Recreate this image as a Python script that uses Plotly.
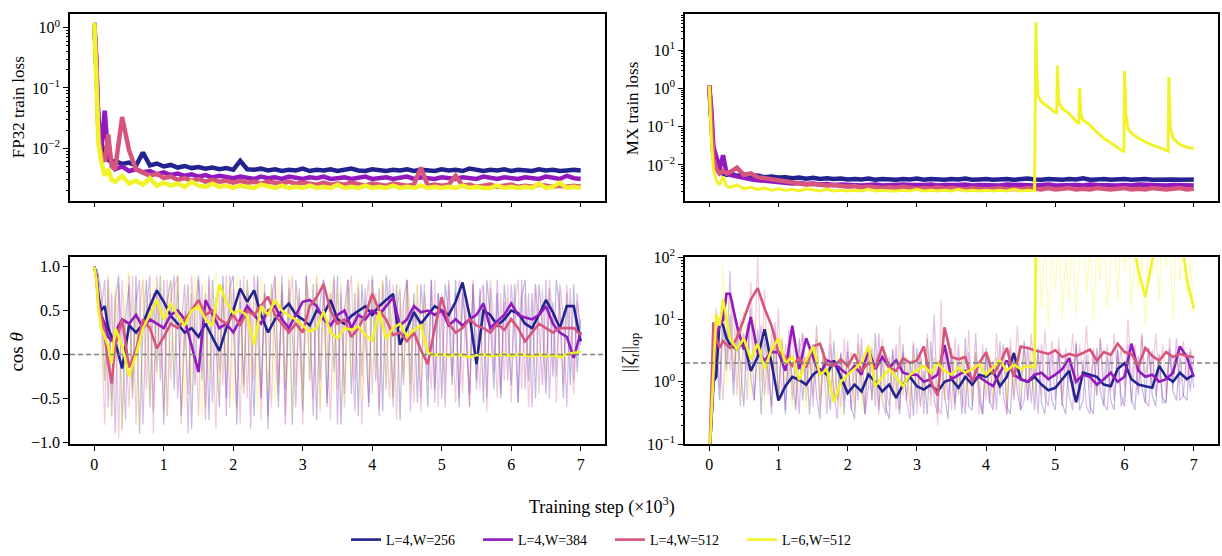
import plotly.graph_objects as go

FONT = "Liberation Serif"

# ---------------- data ----------------
LABELS = ["L=4,W=256", "L=4,W=384", "L=4,W=512", "L=6,W=512"]
COLORS = ["#23238f", "#9119be", "#d7557d", "#f2f22a"]

X_TICKS = [0, 1, 2, 3, 4, 5, 6, 7]

# shared step grid (x10^3)
STEPS = [0, 0.03, 0.06, 0.1, 0.15, 0.2, 0.25,
         0.3, 0.4, 0.5, 0.6, 0.7, 0.8, 0.9, 1.0,
         1.1, 1.2, 1.3, 1.4, 1.5, 1.6, 1.7, 1.8, 1.9, 2.0,
         2.1, 2.2, 2.3, 2.4, 2.5, 2.6, 2.7, 2.8, 2.9, 3.0,
         3.1, 3.2, 3.3, 3.4, 3.5, 3.6, 3.7, 3.8, 3.9, 4.0,
         4.1, 4.2, 4.3, 4.4, 4.5, 4.6, 4.7, 4.8, 4.9, 5.0,
         5.1, 5.2, 5.3, 5.4, 5.5, 5.6, 5.7, 5.8, 5.9, 6.0,
         6.1, 6.2, 6.3, 6.4, 6.5, 6.6, 6.7, 6.8, 6.9, 7.0]

# raw (unsmoothed) step grid
RAW_STEPS = [round(0.05 * i, 2) for i in range(141)]

# ---- FP32 train loss ----
FP32_256 = [1.2, 0.15, 0.03, 0.012, 0.008, 0.0065, 0.0058,
            0.0062, 0.0055, 0.0058, 0.0052, 0.0085, 0.0052, 0.0056, 0.0050,
            0.0053, 0.0048, 0.0051, 0.0047, 0.0049, 0.0046, 0.0048, 0.0045, 0.0047, 0.0044,
            0.0062, 0.0045, 0.0044, 0.0046, 0.0043, 0.0045, 0.0042, 0.0044, 0.0043, 0.0046,
            0.0042, 0.0044, 0.0043, 0.0045, 0.0042, 0.0044, 0.0046, 0.0043, 0.0042, 0.0045,
            0.0043, 0.0042, 0.0044, 0.0043, 0.0045, 0.0042, 0.0044, 0.0043, 0.0042, 0.0045,
            0.0043, 0.0044, 0.0042, 0.0046, 0.0043, 0.0042, 0.0044, 0.0043, 0.0045, 0.0042,
            0.0044, 0.0043, 0.0042, 0.0045, 0.0043, 0.0044, 0.0042, 0.0043, 0.0044, 0.0043]
FP32_384 = [1.2, 0.25, 0.02, 0.01, 0.042, 0.007, 0.006,
            0.0045, 0.0050, 0.0042, 0.0045, 0.0040, 0.0042, 0.0037, 0.0040,
            0.0036, 0.0038, 0.0035, 0.0037, 0.0034, 0.0036, 0.0033, 0.0035, 0.0034, 0.0032,
            0.0034, 0.0033, 0.0031, 0.0034, 0.0032, 0.0033, 0.0031, 0.0034, 0.0032, 0.0031,
            0.0033, 0.0032, 0.0034, 0.0031, 0.0032, 0.0033, 0.0031, 0.0032, 0.0034, 0.0031,
            0.0032, 0.0033, 0.0031, 0.0032, 0.0034, 0.0031, 0.0033, 0.0032, 0.0031, 0.0033,
            0.0032, 0.0031, 0.0033, 0.0032, 0.0031, 0.0034, 0.0032, 0.0031, 0.0033, 0.0032,
            0.0031, 0.0033, 0.0032, 0.0031, 0.0034, 0.0032, 0.0031, 0.0035, 0.0032, 0.0031]
FP32_512 = [1.2, 0.3, 0.015, 0.008, 0.006, 0.017, 0.005,
            0.0045, 0.033, 0.0092, 0.0045, 0.0040, 0.0035, 0.0038, 0.0032,
            0.0034, 0.0030, 0.0032, 0.0029, 0.0031, 0.0028, 0.0030, 0.0028, 0.0029, 0.0027,
            0.0029, 0.0027, 0.0028, 0.0026, 0.0028, 0.0027, 0.0026, 0.0028, 0.0026, 0.0027,
            0.0026, 0.0025, 0.0027, 0.0025, 0.0026, 0.0025, 0.0027, 0.0025, 0.0024, 0.0026,
            0.0025, 0.0024, 0.0026, 0.0025, 0.0024, 0.0025, 0.0048, 0.0024, 0.0025, 0.0024,
            0.0025, 0.0035, 0.0024, 0.0025, 0.0023, 0.0024, 0.0025, 0.0023, 0.0024, 0.0025,
            0.0023, 0.0024, 0.0023, 0.0025, 0.0024, 0.0023, 0.0024, 0.0023, 0.0024, 0.0023]
FP32_L6 = [1.2, 0.1, 0.012, 0.006, 0.0035, 0.0045, 0.003,
           0.0028, 0.0035, 0.0026, 0.0029, 0.0025, 0.0032, 0.0024, 0.0027,
           0.0024, 0.0026, 0.0023, 0.0028, 0.0024, 0.0023, 0.0026, 0.0023, 0.0024, 0.0022,
           0.0024, 0.0023, 0.0022, 0.0025, 0.0023, 0.0022, 0.0024, 0.0022, 0.0023, 0.0022,
           0.0024, 0.0022, 0.0023, 0.0022, 0.0025, 0.0022, 0.0023, 0.0022, 0.0024, 0.0022,
           0.0023, 0.0022, 0.0024, 0.0022, 0.0023, 0.0022, 0.0024, 0.0022, 0.0023, 0.0022,
           0.0023, 0.0022, 0.0024, 0.0022, 0.0023, 0.0022, 0.0022, 0.0024, 0.0022, 0.0023,
           0.0022, 0.0023, 0.0022, 0.0026, 0.0022, 0.0023, 0.0027, 0.0022, 0.0023, 0.0022]

# ---- MX train loss ----
MX_256 = [1.2, 0.2, 0.02, 0.01, 0.007, 0.006, 0.0055,
          0.006, 0.0052, 0.0056, 0.0050, 0.0053, 0.0048, 0.0050, 0.0047,
          0.0048, 0.0045, 0.0047, 0.0044, 0.0046, 0.0043, 0.0045, 0.0043, 0.0044, 0.0042,
          0.0043, 0.0042, 0.0044, 0.0041, 0.0043, 0.0042, 0.0041, 0.0043, 0.0042, 0.0044,
          0.0041, 0.0043, 0.0042, 0.0041, 0.0043, 0.0042, 0.0044, 0.0041, 0.0042, 0.0043,
          0.0041, 0.0042, 0.0043, 0.0041, 0.0042, 0.0044, 0.0042, 0.0041, 0.0043, 0.0042,
          0.0041, 0.0043, 0.0042, 0.0045, 0.0041, 0.0042, 0.0043, 0.0041, 0.0042, 0.0043,
          0.0041, 0.0042, 0.0043, 0.0041, 0.0042, 0.0043, 0.0042, 0.0041, 0.0042, 0.0042]
MX_384 = [1.2, 0.3, 0.03, 0.018, 0.008, 0.018, 0.006,
          0.0055, 0.005, 0.0045, 0.0042, 0.0040, 0.0038, 0.0037, 0.0035,
          0.0034, 0.0033, 0.0034, 0.0032, 0.0033, 0.0031, 0.0032, 0.0030, 0.0031, 0.0030,
          0.0031, 0.0029, 0.0030, 0.0031, 0.0029, 0.0030, 0.0029, 0.0031, 0.0030, 0.0029,
          0.0030, 0.0031, 0.0029, 0.0030, 0.0029, 0.0030, 0.0031, 0.0029, 0.0030, 0.0029,
          0.0030, 0.0029, 0.0031, 0.0030, 0.0029, 0.0030, 0.0029, 0.0030, 0.0031, 0.0029,
          0.0030, 0.0029, 0.0030, 0.0029, 0.0031, 0.0030, 0.0029, 0.0030, 0.0029, 0.0030,
          0.0029, 0.0031, 0.0030, 0.0029, 0.0030, 0.0029, 0.0030, 0.0029, 0.0030, 0.0029]
MX_512 = [1.2, 0.1, 0.015, 0.008, 0.006, 0.007, 0.006,
          0.0065, 0.0085, 0.0055, 0.006, 0.0048, 0.0045, 0.0040, 0.0038,
          0.0036, 0.0034, 0.0033, 0.0031, 0.0032, 0.0030, 0.0029, 0.0030, 0.0028, 0.0027,
          0.0028, 0.0026, 0.0027, 0.0026, 0.0025, 0.0026, 0.0025, 0.0027, 0.0025, 0.0024,
          0.0025, 0.0024, 0.0026, 0.0024, 0.0025, 0.0024, 0.0023, 0.0025, 0.0024, 0.0023,
          0.0024, 0.0025, 0.0023, 0.0024, 0.0023, 0.0025, 0.0024, 0.0023, 0.0025, 0.0023,
          0.0024, 0.0025, 0.0023, 0.0024, 0.0023, 0.0025, 0.0024, 0.0023, 0.0024, 0.0025,
          0.0023, 0.0024, 0.0023, 0.0025, 0.0024, 0.0023, 0.0024, 0.0025, 0.0023, 0.0024]
MX_L6_STEPS = [0, 0.03, 0.06, 0.1, 0.15, 0.2, 0.25,
               0.3, 0.4, 0.5, 0.6, 0.7, 0.8, 0.9, 1.0,
               1.1, 1.2, 1.3, 1.4, 1.5, 1.6, 1.7, 1.8, 1.9, 2.0,
               2.1, 2.2, 2.3, 2.4, 2.5, 2.6, 2.7, 2.8, 2.9, 3.0,
               3.1, 3.2, 3.3, 3.4, 3.5, 3.6, 3.7, 3.8, 3.9, 4.0,
               4.1, 4.2, 4.3, 4.4, 4.5, 4.6, 4.7,
               4.72, 4.73, 4.75, 4.8, 4.9, 5.0, 5.02, 5.03, 5.05, 5.1,
               5.2, 5.3, 5.34, 5.35, 5.37, 5.4, 5.5, 5.6, 5.7, 5.8,
               5.9, 5.99, 6.0, 6.02, 6.05, 6.1, 6.2, 6.3, 6.4, 6.5,
               6.6, 6.63, 6.64, 6.66, 6.7, 6.8, 6.9, 7.0]
MX_L6 = [1.2, 0.05, 0.008, 0.004, 0.003, 0.005, 0.0028,
         0.0026, 0.003, 0.0024, 0.0026, 0.0023, 0.0025, 0.0022, 0.0024,
         0.0022, 0.0023, 0.0021, 0.0024, 0.0022, 0.0021, 0.0023, 0.0021, 0.0022, 0.0021,
         0.0022, 0.0021, 0.0023, 0.0021, 0.0022, 0.0021, 0.0021, 0.0022, 0.0021, 0.0023,
         0.0021, 0.0022, 0.0021, 0.0022, 0.0021, 0.0023, 0.0021, 0.0022, 0.0021, 0.0022,
         0.0021, 0.0022, 0.0021, 0.0023, 0.0021, 0.0022, 0.0021,
         54, 3.0, 0.65, 0.45, 0.33, 0.24, 0.22, 4.0, 0.45, 0.3,
         0.22, 0.14, 0.12, 1.03, 0.2, 0.15, 0.11, 0.072, 0.05, 0.038,
         0.028, 0.022, 2.9, 0.2, 0.09, 0.068, 0.05, 0.04, 0.033, 0.029,
         0.025, 0.023, 2.0, 0.1, 0.05, 0.034, 0.029, 0.027]

# ---- cos theta (smoothed) ----
COS_256 = [1.0, 0.9, 0.65, 0.5, 0.55, 0.3, 0.2,
           0.15, -0.16, 0.33, 0.25, 0.35, 0.55, 0.73, 0.6,
           0.44, 0.35, 0.25, 0.3, 0.2, 0.35, 0.2, 0.04, 0.3, 0.5,
           0.75, 0.6, 0.73, 0.45, 0.25, 0.4, 0.5, 0.58, 0.45, 0.4,
           0.33, 0.5, 0.45, 0.62, 0.4, 0.35, 0.44, 0.5, 0.55, 0.45,
           0.55, 0.62, 0.69, 0.11, 0.3, 0.48, 0.35, 0.45, 0.55, 0.5,
           0.45, 0.6, 0.82, 0.45, -0.11, 0.5, 0.45, 0.33, 0.4, 0.5,
           0.47, 0.35, 0.3, 0.45, 0.62, 0.48, 0.3, 0.55, 0.55, 0.15]
COS_384 = [1.0, 0.9, 0.6, 0.45, 0.35, 0.2, 0.15,
           0.25, 0.4, 0.35, 0.45, 0.3, 0.4, 0.35, 0.3,
           0.45, 0.5, 0.4, 0.1, -0.2, 0.62, 0.45, 0.3, 0.35, 0.25,
           0.4, 0.55, 0.45, 0.35, 0.5, 0.55, 0.4, 0.3, 0.45, 0.6,
           0.62, 0.55, 0.4, 0.33, 0.45, 0.5, 0.3, 0.45, 0.4, 0.5,
           0.45, 0.55, 0.65, 0.33, 0.4, 0.55, 0.48, 0.5, 0.45, 0.5,
           0.33, 0.4, 0.33, 0.4, 0.45, 0.58, 0.3, 0.38, 0.45, 0.58,
           0.45, 0.42, 0.4, 0.45, 0.55, 0.35, 0.25, 0.2, -0.04, 0.25]
COS_512 = [1.0, 0.85, 0.55, 0.45, 0.2, -0.1, -0.33,
           0.1, 0.4, -0.15, 0.05, 0.4, 0.3, 0.07, 0.2,
           0.35, 0.3, 0.4, 0.5, 0.62, 0.45, 0.5, 0.4, 0.35, 0.45,
           0.33, 0.5, 0.45, 0.55, 0.66, 0.45, 0.35, 0.25, 0.35, 0.25,
           0.55, 0.65, 0.8, 0.5, 0.35, 0.4, 0.2, 0.3, 0.45, 0.69,
           0.5, 0.4, 0.22, 0.25, 0.15, 0.25, 0.05, -0.11, 0.3, 0.65,
           0.35, 0.25, 0.3, 0.4, 0.33, 0.3, 0.25, 0.35, 0.28, 0.4,
           0.3, 0.15, 0.25, 0.35, 0.3, 0.25, 0.3, 0.3, 0.3, 0.22]
COS_L6 = [1.0, 0.85, 0.5, 0.3, 0.2, 0.1, -0.1,
          0.3, 0.1, -0.25, 0.0, 0.3, 0.45, 0.62, 0.4,
          0.58, 0.45, 0.33, 0.5, 0.55, 0.4, 0.33, 0.8, 0.6, 0.47,
          0.5, 0.44, 0.11, 0.55, 0.45, 0.62, 0.5, 0.44, 0.4, 0.33,
          0.26, 0.3, 0.49, 0.25, 0.18, 0.3, 0.28, 0.32, 0.22, 0.16,
          0.49, 0.18, 0.3, 0.35, 0.2, 0.28, 0.33, 0.02, -0.01, 0.0,
          -0.02, 0.0, -0.01, -0.03, -0.01, 0.0, -0.02, -0.01, 0.0, -0.02,
          0.0, -0.01, -0.02, 0.0, -0.02, -0.01, -0.03, 0.0, 0.02, 0.03]

# ---- cos theta (raw) ----
COS_RAW_256 = [1.0, 0.95, 0.7, -0.3, 0.85, -0.7, 0.6, 0.9, -0.85, 0.4, 0.8, -0.5, 0.9, -0.9, 0.3, 0.85, -0.6, 0.7, -0.2, 0.9,
               -0.8, 0.6, 0.85, -0.4, 0.9, -0.7, 0.2, 0.8, -0.85, 0.5, 0.9, -0.3, 0.7, -0.75, 0.85, 0.1, -0.6, 0.9, -0.5, 0.75,
               0.9, -0.8, 0.6, -0.35, 0.85, 0.3, -0.7, 0.9, -0.5, 0.7, -0.85, 0.8, 0.2, -0.6, 0.9, -0.4, 0.75, -0.8, 0.85, 0.35,
               -0.65, 0.9, -0.3, 0.8, -0.75, 0.6, 0.85, -0.55, 0.7, -0.2, 0.9, -0.8, 0.5, 0.85, -0.45, 0.7, -0.7, 0.8, 0.25, -0.6,
               0.85, -0.3, 0.75, -0.65, 0.9, 0.4, -0.5, 0.8, -0.75, 0.6, 0.85, -0.35, 0.7, -0.55, 0.8, 0.3, -0.6, 0.85, -0.4, 0.7,
               -0.5, 0.8, 0.45, -0.35, 0.85, -0.6, 0.7, 0.2, -0.45, 0.8, -0.3, 0.75, -0.55, 0.85, 0.4, -0.4, 0.7, -0.5, 0.8, 0.3,
               -0.35, 0.8, -0.55, 0.65, 0.85, -0.3, 0.7, -0.5, 0.8, 0.35, -0.45, 0.75, -0.25, 0.85, 0.5, -0.5, 0.7, -0.35, 0.8, -0.2,
               0.4]
COS_RAW_384 = [1.0, 0.9, 0.5, 0.85, -0.6, 0.7, -0.9, 0.8, 0.2, -0.75, 0.9, -0.4, 0.6, 0.85, -0.8, 0.5, 0.9, -0.65, 0.75, -0.3,
               0.85, -0.7, 0.6, 0.9, -0.5, 0.3, 0.8, -0.9, 0.7, -0.35, 0.85, 0.4, -0.75, 0.9, -0.55, 0.65, -0.2, 0.8, -0.7, 0.9,
               0.3, -0.6, 0.85, -0.45, 0.7, -0.85, 0.9, 0.25, -0.5, 0.8, -0.7, 0.6, 0.9, -0.35, 0.7, -0.8, 0.85, 0.2, -0.6, 0.75,
               -0.4, 0.9, 0.5, -0.7, 0.8, -0.3, 0.85, -0.6, 0.4, 0.9, -0.8, 0.7, -0.45, 0.85, 0.3, -0.65, 0.8, -0.25, 0.75, -0.55,
               0.9, 0.35, -0.7, 0.8, -0.4, 0.85, -0.6, 0.5, 0.75, -0.35, 0.85, -0.65, 0.6, 0.2, -0.5, 0.8, -0.3, 0.85, -0.55, 0.7,
               0.4, -0.6, 0.85, -0.25, 0.7, -0.5, 0.8, 0.3, -0.6, 0.85, -0.4, 0.65, 0.8, -0.5, 0.75, -0.2, 0.85, -0.45, 0.6, -0.3,
               0.8, 0.25, -0.55, 0.85, -0.4, 0.7, -0.6, 0.8, 0.3, -0.35, 0.85, -0.5, 0.6, -0.25, 0.8, 0.45, -0.6, 0.75, -0.3, 0.7,
               0.1]
COS_RAW_512 = [1.0, 0.8, 0.3, -0.8, 0.9, -0.5, 0.7, -0.95, 0.85, 0.1, -0.6, 0.9, -0.8, 0.5, 0.85, -0.4, 0.7, -0.9, 0.9, 0.2,
               -0.65, 0.85, -0.3, 0.75, 0.9, -0.8, 0.5, -0.45, 0.9, 0.3, -0.7, 0.8, -0.6, 0.85, 0.2, -0.85, 0.7, -0.35, 0.9, -0.6,
               0.75, 0.4, -0.8, 0.9, -0.5, 0.6, -0.3, 0.85, -0.75, 0.7, 0.25, -0.6, 0.9, -0.45, 0.8, -0.7, 0.5, 0.9, -0.35, 0.65,
               -0.8, 0.85, 0.3, -0.5, 0.9, -0.65, 0.7, 0.2, -0.75, 0.85, -0.4, 0.8, -0.6, 0.6, 0.9, -0.3, 0.75, -0.8, 0.5, 0.85,
               -0.45, 0.7, -0.6, 0.85, 0.3, -0.5, 0.8, -0.75, 0.65, -0.3, 0.85, 0.4, -0.55, 0.8, -0.65, 0.7, 0.25, -0.4, 0.85, -0.6,
               0.7, -0.35, 0.8, 0.3, -0.55, 0.85, -0.45, 0.65, -0.6, 0.8, 0.2, -0.4, 0.75, -0.65, 0.85, 0.35, -0.5, 0.7, -0.3, 0.8,
               -0.55, 0.6, 0.85, -0.4, 0.7, -0.6, 0.3, 0.8, -0.45, 0.75, -0.3, 0.85, 0.4, -0.55, 0.7, -0.35, 0.8, 0.2, -0.45, 0.6,
               0.3]
COS_RAW_L6 = [1.0, 0.85, 0.6, -0.4, 0.9, -0.75, 0.8, 0.2, -0.9, 0.7, 0.95, -0.5, 0.6, -0.85, 0.9, 0.3, -0.6, 0.85, -0.3, 0.9,
              0.4, -0.7, 0.85, -0.2, 0.9, 0.5, -0.6, 0.8, -0.4, 0.9, 0.2, -0.75, 0.85, -0.3, 0.7, 0.95, -0.5, 0.8, -0.2, 0.85,
              -0.6, 0.9, 0.35, -0.45, 0.85, -0.25, 0.7, -0.65, 0.9, 0.3, -0.4, 0.8, -0.55, 0.85, 0.4, -0.3, 0.9, -0.7, 0.75, 0.2,
              -0.5, 0.85, -0.3, 0.7, 0.9, -0.6, 0.5, -0.2, 0.85, -0.45, 0.75, 0.3, -0.55, 0.8, -0.25, 0.7, 0.85, -0.5, 0.6, -0.35,
              0.8, -0.2, 0.65, 0.85, -0.4, 0.7, -0.55, 0.6, 0.8, -0.3, 0.75, -0.45, 0.5, 0.8, -0.25, 0.6, 0.04, -0.03, 0.02, -0.04,
              0.03, -0.02, 0.05, -0.04, 0.01, -0.05, 0.03, -0.02, 0.04, -0.03, 0.02, -0.05, 0.03, -0.01, 0.04, -0.04, 0.02, -0.03, 0.05, -0.02,
              0.02, -0.04, 0.03, -0.02, 0.05, -0.03, 0.01, -0.05, 0.04, -0.02, 0.03, -0.04, 0.02, -0.01, 0.05, -0.03, 0.04, -0.02, 0.06, 0.01,
              0.04]

# ---- ||zeta_t||_op (smoothed) ----
ZETA_256 = [0.05, 0.3, 1.0, 1.2, 10, 8, 5,
            4, 3.3, 4.5, 1.5, 2.5, 7, 2, 0.5,
            0.85, 1.2, 1.07, 0.9, 1.3, 1.6, 1.3, 2.2, 1.2, 0.66,
            0.9, 0.7, 1.3, 1.0, 0.7, 0.9, 0.55, 0.9, 1.2, 0.85,
            0.75, 0.9, 0.7, 1.0, 1.1, 0.8, 1.2, 0.9, 1.3, 1.2,
            1.5, 0.85, 1.2, 2.9, 1.1, 1.0, 1.2, 0.9, 0.73, 0.8,
            1.1, 1.5, 0.47, 1.4, 1.3, 1.2, 0.9, 0.85, 1.6, 2.0,
            1.1, 0.9, 0.85, 0.8, 1.8, 1.2, 1.0, 1.4, 1.1, 1.3]
ZETA_384 = [0.05, 0.3, 1.0, 5, 8, 10, 26,
            26, 8, 3.3, 11, 3, 2.2, 3, 3,
            1.5, 8, 1.6, 5, 2.5, 1.3, 2.2, 2.0, 1.6, 1.3,
            1.8, 1.3, 3.3, 1.6, 2.5, 1.7, 2.2, 1.4, 1.3, 1.3,
            1.0, 1.1, 1.3, 3.9, 1.1, 1.3, 1.5, 1.1, 1.2, 1.0,
            0.85, 1.4, 2.2, 1.3, 1.1, 1.0, 1.3, 1.4, 1.1, 1.3,
            1.6, 2.4, 1.0, 1.3, 1.2, 0.9, 1.1, 1.4, 1.0, 1.2,
            4.1, 1.5, 1.2, 1.3, 1.0, 1.1, 1.4, 3.7, 2.5, 1.2]
ZETA_512 = [0.05, 0.5, 9, 5, 3.5, 4.5, 4,
            3.5, 5, 10, 21, 32, 15, 8, 3,
            2.5, 1.8, 2.4, 1.7, 3.7, 4.1, 1.9, 1.8, 2.3, 1.8,
            2.8, 1.5, 2.0, 1.7, 3.7, 1.7, 1.5, 2.4, 2.0, 2.2,
            3.7, 1.0, 0.6, 7.5, 2.5, 2.3, 2.5, 1.0, 2.0, 3.0,
            1.3, 2.0, 3.5, 1.2, 3.7, 3.5, 3.2, 3.0, 2.8, 3.2,
            2.5, 2.8, 2.6, 2.9, 3.3, 2.2, 3.0, 2.7, 4.1, 3.0,
            2.8, 1.8, 3.5, 2.6, 2.2, 3.0, 2.5, 2.8, 2.6, 2.5]
# L=6 run has its own grid: it blows up abruptly at step 4.72k
ZETA_L6_STEPS = [0, 0.03, 0.06, 0.1, 0.15, 0.2, 0.25,
                 0.3, 0.4, 0.5, 0.6, 0.7, 0.8, 0.9, 1.0,
                 1.1, 1.2, 1.3, 1.4, 1.5, 1.6, 1.7, 1.8, 1.9, 2.0,
                 2.1, 2.2, 2.3, 2.4, 2.5, 2.6, 2.7, 2.8, 2.9, 3.0,
                 3.1, 3.2, 3.3, 3.4, 3.5, 3.6, 3.7, 3.8, 3.9, 4.0,
                 4.1, 4.2, 4.3, 4.4, 4.5, 4.6, 4.7, 4.72, 4.8, 4.9, 5.0,
                 5.1, 5.2, 5.3, 5.4, 5.5, 5.6, 5.7, 5.8, 5.9, 6.0,
                 6.1, 6.2, 6.3, 6.4, 6.5, 6.6, 6.7, 6.8, 6.9, 7.0]
ZETA_L6 = [0.05, 0.3, 1.2, 12, 8, 21, 10,
           5, 3.3, 5, 2.3, 4.1, 1.6, 3.3, 5,
           2.0, 2.5, 1.07, 2.2, 3.7, 1.3, 1.6, 0.47, 1.0, 1.3,
           1.6, 2.0, 3.7, 0.85, 1.2, 1.6, 1.2, 0.85, 1.3, 1.55,
           1.8, 1.4, 2.0, 1.5, 1.3, 1.7, 1.4, 1.6, 1.9, 1.3,
           1.7, 2.2, 1.5, 1.9, 1.6, 1.8, 1.7, 300, 300, 300, 300,
           300, 300, 300, 300, 300, 300, 300, 300, 300, 300,
           300, 60, 23, 90, 300, 300, 300, 300, 45, 15]

# ---- ||zeta_t||_op (raw) ----
ZETA_RAW_256 = [0.05, 0.3, 3, 0.5, 8, 1.5, 12, 0.6, 6, 2, 0.4, 9, 1.2, 0.5, 7, 0.3, 5, 1.5, 0.4, 6,
                0.5, 4, 0.3, 3.5, 1.0, 0.35, 5, 0.5, 2.5, 0.3, 4, 0.6, 0.25, 3, 1.2, 0.35, 4.5, 0.5, 2.8, 0.3,
                3, 0.4, 0.25, 4, 0.8, 0.3, 3.5, 0.5, 6, 0.35, 2.5, 0.4, 0.25, 3.2, 1.0, 0.3, 4, 0.5, 2.2, 0.28,
                3.5, 0.4, 1.5, 0.3, 4.5, 0.5, 0.3, 2.8, 0.6, 0.25, 3.5, 0.45, 2.0, 0.3, 5, 0.4, 0.35, 3, 0.8, 0.3,
                3.5, 0.5, 0.35, 2.5, 0.6, 4, 0.4, 0.3, 3, 0.7, 0.35, 4.5, 0.5, 2.2, 0.35, 3.5, 0.45, 0.3, 2.8, 0.5,
                0.35, 3, 0.45, 0.3, 2.5, 0.6, 4, 0.35, 0.5, 2.8, 0.4, 0.3, 3.5, 0.7, 0.4, 2.6, 0.5, 0.35, 3.2, 0.6,
                0.4, 3, 0.55, 0.35, 2.6, 0.8, 0.45, 3.5, 0.6, 0.4, 2.8, 0.55, 0.45, 3.2, 0.7, 0.5, 2.5, 0.6, 0.5, 3,
                0.8]
ZETA_RAW_384 = [0.05, 0.4, 5, 0.8, 20, 2, 60, 1.0, 10, 0.4, 6, 1.5, 15, 0.5, 3, 8, 0.6, 4, 0.3, 9,
                0.6, 5, 0.35, 7, 0.5, 2, 0.3, 6, 0.8, 3.5, 0.4, 8, 0.5, 2.5, 0.3, 4, 0.7, 0.25, 3, 0.5,
                4.5, 0.35, 2, 0.5, 5, 0.3, 0.8, 3.5, 0.4, 6, 0.5, 0.3, 2.5, 0.6, 4, 0.35, 3, 0.5, 0.25, 4,
                0.5, 3, 0.3, 5, 0.6, 12, 0.4, 0.3, 3.5, 0.5, 2.5, 0.35, 4, 0.6, 0.3, 3, 0.4, 6, 0.5, 0.3,
                3, 0.45, 2.2, 0.35, 4.5, 0.6, 0.3, 3.5, 0.5, 2.5, 0.35, 0.5, 3.8, 0.45, 2.2, 0.3, 4, 0.6, 0.4, 3,
                0.5, 3.5, 0.4, 2.5, 0.6, 0.35, 4.5, 0.5, 2.2, 0.4, 0.3, 3.2, 0.6, 5, 0.45, 0.35, 2.8, 0.5, 3.5, 0.4,
                0.6, 4, 0.45, 2.5, 0.6, 6, 0.5, 0.4, 3.2, 0.6, 2.2, 0.45, 0.5, 3.5, 0.8, 5, 0.5, 0.6, 3, 0.7,
                2.5]
ZETA_RAW_512 = [0.05, 0.8, 15, 3, 0.5, 8, 1.5, 20, 0.6, 10, 4, 0.5, 40, 2, 100, 1.0, 30, 0.6, 6, 1.2,
                15, 0.5, 4, 1.0, 8, 0.4, 3, 6, 0.5, 2.5, 0.6, 5, 0.35, 3.5, 1.0, 7, 0.5, 2, 0.4, 5,
                0.6, 3, 0.35, 6, 1.2, 0.4, 4, 0.5, 2.5, 0.3, 5, 0.8, 0.4, 3.5, 0.35, 8, 0.6, 2.5, 0.4, 4.5,
                0.3, 3, 0.6, 6, 0.4, 2.5, 0.2, 20, 0.5, 3, 0.35, 5, 0.6, 2.5, 0.4, 7, 0.5, 3, 0.3, 4,
                0.5, 2.5, 0.4, 6, 0.8, 3.5, 0.3, 5, 0.6, 8, 1.0, 4, 0.5, 6, 1.2, 3, 0.6, 7, 1.0, 4.5,
                1.2, 5, 0.6, 3.5, 1.0, 6, 0.7, 4, 1.2, 8, 0.8, 3.5, 0.6, 5, 1.0, 4, 0.7, 6, 1.1, 3.5,
                0.8, 10, 1.0, 4, 0.7, 5.5, 1.2, 3.5, 0.8, 6, 1.0, 4, 0.6, 5, 1.2, 3, 0.9, 4.5, 1.0, 3.5,
                2.0]
ZETA_RAW_L6 = [0.05, 0.5, 10, 2, 80, 0.8, 25, 1.5, 8, 0.5, 15, 3, 0.6, 10, 1.0, 5, 0.4, 8, 1.5, 4,
               0.5, 6, 1.0, 3, 0.4, 5, 0.8, 2.5, 0.35, 4, 1.0, 6, 0.5, 3, 0.4, 2, 0.8, 3.5, 0.3, 2.5,
               0.8, 3, 0.5, 4, 0.35, 2.2, 1.0, 5, 0.6, 2.5, 0.4, 3, 0.8, 2, 0.5, 3.5, 0.6, 2.5, 0.45, 3,
               0.7, 2.8, 0.5, 3.5, 0.8, 2.5, 0.6, 3, 0.5, 4, 0.9, 2.5, 0.6, 3.2, 0.7, 2.2, 0.5, 3.5, 0.8, 2.6,
               0.7, 3, 0.6, 2.5, 0.8, 3.5, 0.5, 2.8, 0.7, 3.2, 0.6, 2.5, 0.8, 3, 0.6, 300, 15, 200, 8, 150,
               30, 300, 10, 100, 20, 250, 12, 80, 300, 25, 150, 9, 200, 40, 300, 15, 120, 300, 20, 250,
               60, 300, 14, 200, 30, 100, 8, 300, 50, 250, 20, 300, 70, 200, 10, 300, 40, 150, 25, 90,
               12]

FP32 = [FP32_256, FP32_384, FP32_512, FP32_L6]
MX = [MX_256, MX_384, MX_512]
COS = [COS_256, COS_384, COS_512, COS_L6]
COS_RAW = [COS_RAW_256, COS_RAW_384, COS_RAW_512, COS_RAW_L6]
ZETA = [ZETA_256, ZETA_384, ZETA_512]
ZETA_RAW = [ZETA_RAW_256, ZETA_RAW_384, ZETA_RAW_512, ZETA_RAW_L6]

for arr in FP32 + MX + COS + ZETA:
    assert len(arr) == len(STEPS), len(arr)
for arr in COS_RAW + ZETA_RAW:
    assert len(arr) == len(RAW_STEPS), len(arr)
assert len(MX_L6) == len(MX_L6_STEPS)
assert len(ZETA_L6) == len(ZETA_L6_STEPS)

# ---------------- figure ----------------
fig = go.Figure()


def line(x, y, color, width, xa, ya, opacity=1.0, name=None, legend=False):
    fig.add_trace(go.Scatter(
        x=x, y=y, mode="lines", name=name, showlegend=legend,
        line=dict(color=color, width=width), opacity=opacity,
        xaxis=xa, yaxis=ya, hoverinfo="skip"))


# top-left: FP32 loss
for ys, c in zip(FP32, COLORS):
    line(STEPS, ys, c, 4.5, "x", "y")
# top-right: MX loss
for ys, c in zip(MX, COLORS[:3]):
    line(STEPS, ys, c, 4.5, "x2", "y2")
line(MX_L6_STEPS, MX_L6, COLORS[3], 3, "x2", "y2")
# bottom-left: cos theta
for ys, c in zip(COS_RAW, COLORS):
    line(RAW_STEPS, ys, c, 1.2, "x3", "y3", opacity=0.3)
for ys, c, lab in zip(COS, COLORS, LABELS):
    line(STEPS, ys, c, 2.6, "x3", "y3", name=lab, legend=True)
# bottom-right: zeta
for ys, c in zip(ZETA_RAW, COLORS):
    line(RAW_STEPS, ys, c, 1.2, "x4", "y4", opacity=0.3)
for ys, c in zip(ZETA, COLORS[:3]):
    line(STEPS, ys, c, 2.6, "x4", "y4")
line(ZETA_L6_STEPS, ZETA_L6, COLORS[3], 2.6, "x4", "y4")

W, H = 1222, 556
XD_L = [70 / W, 605 / W]
XD_R = [685 / W, 1218 / W]
YD_T = [1 - 197 / H, 1 - 3 / H]
YD_B = [1 - 450 / H, 1 - 256 / H]

TICKFONT = dict(family=FONT, size=16, color="black")
base = dict(showline=True, linecolor="black", linewidth=1.6, mirror=True,
            ticks="outside", ticklen=5, tickwidth=1.3, tickcolor="black",
            showgrid=False, zeroline=False, tickfont=TICKFONT)


def minor_vals(lo, hi):
    return [m * 10 ** k for k in range(lo, hi) for m in range(2, 10)]


def decade_text(k):
    s = str(k).replace("-", "\u2212")
    return "10<sup>%s</sup>" % s


xcommon = dict(base, range=[-0.35, 7.35], tickmode="array", tickvals=X_TICKS,
               ticktext=[str(t) for t in X_TICKS])

minor_style = dict(ticks="outside", ticklen=2.5, tickwidth=0.9, tickcolor="black", tickmode="array")

fig.update_layout(
    width=W, height=H, margin=dict(l=0, r=0, t=0, b=0),
    paper_bgcolor="white", plot_bgcolor="white",
    font=dict(family=FONT, size=14, color="black"),
    xaxis=dict(xcommon, domain=XD_L, anchor="y", showticklabels=False),
    xaxis2=dict(xcommon, domain=XD_R, anchor="y2", showticklabels=False),
    xaxis3=dict(xcommon, domain=XD_L, anchor="y3"),
    xaxis4=dict(xcommon, domain=XD_R, anchor="y4"),
    yaxis=dict(base, domain=YD_T, anchor="x", type="log", range=[-2.866, 0.228],
               tickmode="array", tickvals=[1e-2, 1e-1, 1],
               ticktext=[decade_text(k) for k in (-2, -1, 0)],
               minor=dict(minor_style, tickvals=minor_vals(-3, 1))),
    yaxis2=dict(base, domain=YD_T, anchor="x2", type="log", range=[-2.93, 1.95],
                tickmode="array", tickvals=[1e-2, 1e-1, 1, 10],
                ticktext=[decade_text(k) for k in (-2, -1, 0, 1)],
                minor=dict(minor_style, tickvals=minor_vals(-3, 2))),
    yaxis3=dict(base, domain=YD_B, anchor="x3", range=[-1.02, 1.106],
                tickmode="array", tickvals=[-1, -0.5, 0, 0.5, 1],
                ticktext=["\u22121.0", "\u22120.5", "0.0", "0.5", "1.0"]),
    yaxis4=dict(base, domain=YD_B, anchor="x4", type="log", range=[-1, 2],
                tickmode="array", tickvals=[0.1, 1, 10, 100],
                ticktext=[decade_text(k) for k in (-1, 0, 1, 2)],
                minor=dict(minor_style, tickvals=minor_vals(-1, 2))),
    legend=dict(orientation="h", x=610 / W, xanchor="center", y=1 - 550 / H, yanchor="middle",
                font=dict(family=FONT, size=14, color="black"),
                entrywidth=87, entrywidthmode="pixels", bgcolor="rgba(0,0,0,0)",
                itemwidth=30, tracegroupgap=0),
)

dash = dict(color="#808080", width=1.6, dash="5px,3px")
fig.add_shape(type="line", xref="x3 domain", x0=0, x1=1, yref="y3", y0=0, y1=0,
              line=dash, layer="above")
fig.add_shape(type="line", xref="x4 domain", x0=0, x1=1, yref="y4", y0=2, y1=2,
              line=dash, layer="above")

ann = dict(xref="paper", yref="paper", showarrow=False, xanchor="center", yanchor="middle")
fig.add_annotation(ann, text="FP32 train loss", x=18 / W, y=1 - 100 / H, textangle=-90,
                   font=dict(family=FONT, size=17, color="black"))
fig.add_annotation(ann, text="MX train loss", x=632 / W, y=1 - 101 / H, textangle=-90,
                   font=dict(family=FONT, size=17, color="black"))
fig.add_annotation(ann, text="cos <i>θ</i>", x=17 / W, y=1 - 355 / H, textangle=-90,
                   font=dict(family=FONT, size=19, color="black"))
fig.add_annotation(ann, text="||<i>ζ</i><sub><i>t</i></sub>||<sub>op</sub>", x=630 / W, y=1 - 355 / H,
                   textangle=-90, font=dict(family=FONT, size=19, color="black"))
fig.add_annotation(ann, text="Training step (×10<sup>3</sup>)", x=602 / W, y=1 - 514 / H,
                   font=dict(family=FONT, size=18, color="black"))

fig.write_html("out.html", config={"displayModeBar": False})
